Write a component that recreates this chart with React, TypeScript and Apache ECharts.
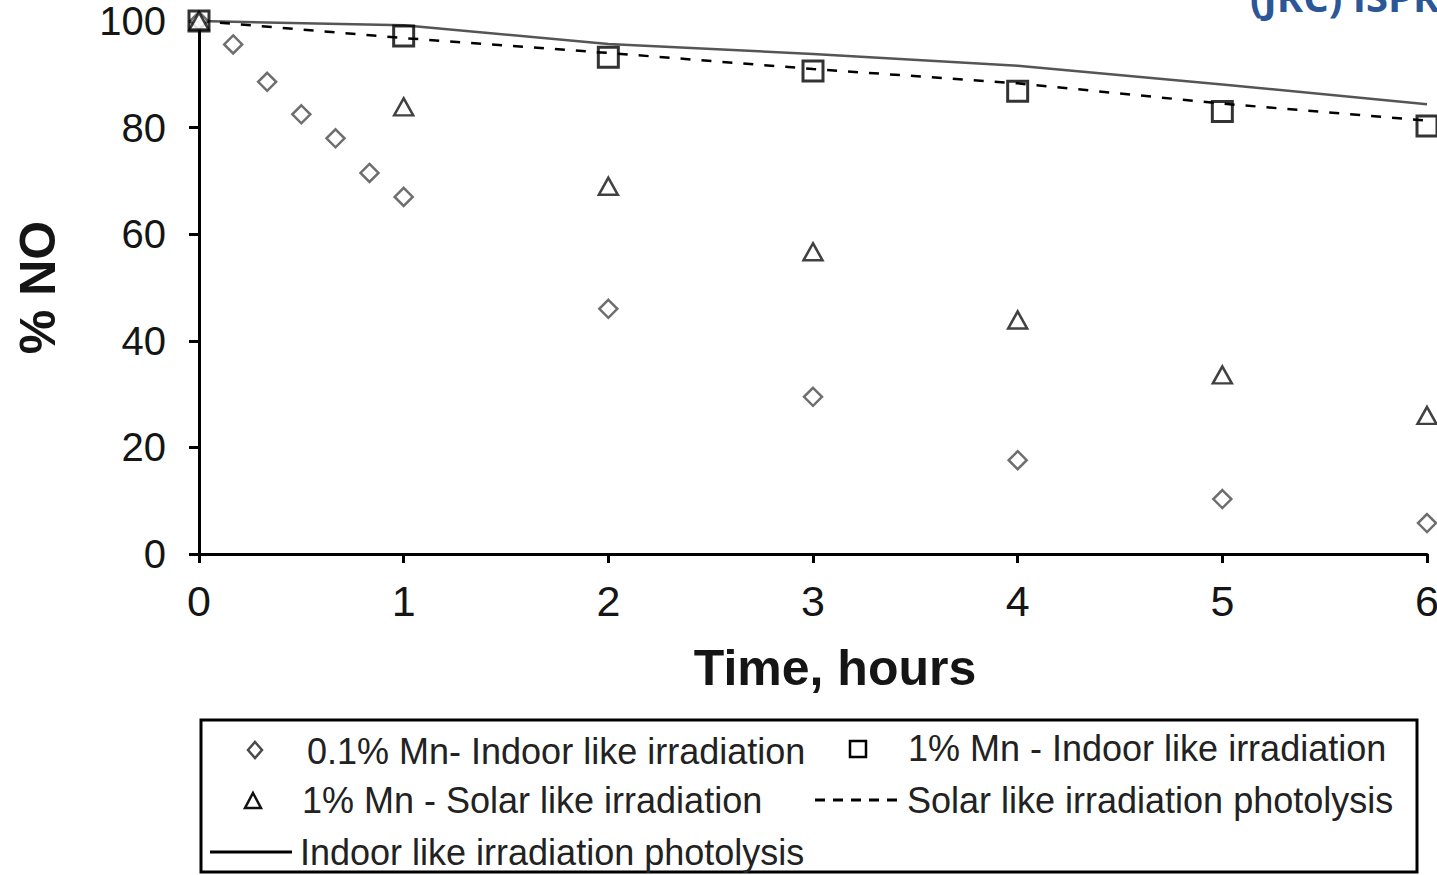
import React, { useEffect, useRef } from "react";
import * as echarts from "echarts";

// ---- data ----
const xTicks = [0, 1, 2, 3, 4, 5, 6];
const yTicks = [0, 20, 40, 60, 80, 100];

const diamondHours = [0, 0.167, 0.333, 0.5, 0.667, 0.833, 1, 2, 3, 4, 5, 6];
const diamondValues = [100, 95.6, 88.6, 82.5, 78, 71.5, 67, 46, 29.5, 17.6, 10.3, 5.8];

const hours = [0, 1, 2, 3, 4, 5, 6];
const squareValues = [100, 97.2, 93.2, 90.6, 86.8, 83, 80.3];
const triangleValues = [100, 83.9, 69, 56.7, 43.9, 33.6, 26];
const indoorPhotolysis = [100, 99.2, 95.7, 93.8, 91.6, 88.1, 84.4];
const solarPhotolysis = [100, 96.8, 94, 91, 88.3, 84.5, 81.3];

const seriesNames = [
  "0.1% Mn- Indoor like irradiation",
  "1% Mn - Indoor like irradiation",
  "1% Mn - Solar like irradiation",
  "Solar like irradiation photolysis",
  "Indoor like irradiation photolysis",
];

const FONT = "'Liberation Sans', Arial, Helvetica, sans-serif";
const TEXT = "#151515";

const pairs = (xs: number[], ys: number[]) => xs.map((x, i) => [x, ys[i]]);

export default function App() {
  const ref = useRef<HTMLDivElement>(null);

  useEffect(() => {
    document.body.style.margin = "0";
    const chart = echarts.init(ref.current!, null, { renderer: "svg" });

    const legendText = (x: number, y: number, text: string) => ({
      type: "text",
      x,
      y,
      style: {
        text,
        fill: "#222",
        font: `36px ${FONT}`,
        align: "left",
        verticalAlign: "middle",
      },
    });

    const option: any = {
      animation: false,
      backgroundColor: "#ffffff",
      grid: {
        left: 199,
        right: 10,
        top: 21,
        bottom: 321,
        containLabel: false,
        outerBoundsMode: "none",
      },
      xAxis: {
        type: "value",
        min: 0,
        max: 6,
        interval: 1,
        name: "Time, hours",
        nameLocation: "middle",
        nameGap: 89,
        nameTextStyle: {
          fontFamily: FONT,
          fontSize: 50,
          fontWeight: "bold",
          color: TEXT,
          padding: [0, 0, 0, 44],
        },
        axisLine: { show: true, onZero: false, lineStyle: { color: "#000", width: 3 } },
        axisTick: { show: true, inside: false, length: 9, lineStyle: { color: "#000", width: 3 } },
        axisLabel: {
          margin: 25,
          fontFamily: FONT,
          fontSize: 43,
          color: TEXT,
          formatter: (v: number) => (xTicks.includes(v) ? String(v) : ""),
        },
        splitLine: { show: false },
      },
      yAxis: {
        type: "value",
        min: 0,
        max: 100,
        interval: 20,
        name: "% NO",
        nameLocation: "middle",
        nameGap: 136,
        nameRotate: 90,
        nameTextStyle: {
          fontFamily: FONT,
          fontSize: 50,
          fontWeight: "bold",
          color: TEXT,
        },
        axisLine: { show: true, onZero: false, lineStyle: { color: "#000", width: 3 } },
        axisTick: { show: true, inside: false, length: 10, lineStyle: { color: "#000", width: 3 } },
        axisLabel: {
          margin: 33,
          fontFamily: FONT,
          fontSize: 40,
          color: TEXT,
          formatter: (v: number) => (yTicks.includes(v) ? String(v) : ""),
        },
        splitLine: { show: false },
      },
      series: [
        {
          name: seriesNames[4],
          type: "line",
          data: pairs(hours, indoorPhotolysis),
          showSymbol: false,
          symbol: "none",
          lineStyle: { color: "#555", width: 2.5, type: "solid" },
          z: 2,
        },
        {
          name: seriesNames[3],
          type: "line",
          data: pairs(hours, solarPhotolysis),
          showSymbol: false,
          symbol: "none",
          lineStyle: { color: "#000", width: 2.5, type: [10, 11] },
          z: 2,
        },
        {
          name: seriesNames[0],
          type: "scatter",
          data: pairs(diamondHours, diamondValues),
          symbol: "diamond",
          symbolSize: 18,
          itemStyle: { color: "#fff", borderColor: "#4a4a4a", borderWidth: 2.5 },
          clip: false,
          z: 3,
        },
        {
          name: seriesNames[2],
          type: "scatter",
          data: pairs(hours, triangleValues),
          symbol: "triangle",
          symbolSize: [19, 17],
          itemStyle: { color: "#fff", borderColor: "#111", borderWidth: 2.5 },
          clip: false,
          z: 4,
        },
        {
          name: seriesNames[1],
          type: "scatter",
          data: pairs(hours, squareValues),
          symbol: "rect",
          symbolSize: 20,
          itemStyle: { color: "rgba(255,255,255,0)", borderColor: "#000", borderWidth: 3 },
          clip: false,
          z: 5,
        },
      ],
      graphic: [
        {
          type: "text",
          x: 1250,
          y: -4,
          style: {
            text: "(JRC) ISPRA",
            fill: "#2b5797",
            font: "bold 40px 'Open Sans', 'Noto Sans', sans-serif",
            align: "left",
            verticalAlign: "middle",
          },
        },
        {
          type: "rect",
          shape: { x: 201, y: 720, width: 1216, height: 152 },
          style: { fill: "none", stroke: "#000", lineWidth: 3 },
        },
        {
          type: "polygon",
          shape: { points: [[255, 742], [262, 750], [255, 758], [248, 750]] },
          style: { fill: "#fff", stroke: "#4a4a4a", lineWidth: 2.5 },
        },
        legendText(307, 751, seriesNames[0]),
        {
          type: "rect",
          shape: { x: 850, y: 741, width: 16, height: 16 },
          style: { fill: "none", stroke: "#000", lineWidth: 2.5 },
        },
        legendText(908, 748, seriesNames[1]),
        {
          type: "polygon",
          shape: { points: [[253, 793], [261, 808], [245, 808]] },
          style: { fill: "#fff", stroke: "#111", lineWidth: 2.5 },
        },
        legendText(302, 800, seriesNames[2]),
        {
          type: "line",
          shape: { x1: 815, y1: 800, x2: 897, y2: 800 },
          style: { stroke: "#000", lineWidth: 3, lineDash: [10, 8] },
        },
        legendText(907, 800, seriesNames[3]),
        {
          type: "line",
          shape: { x1: 210, y1: 852, x2: 292, y2: 852 },
          style: { stroke: "#000", lineWidth: 3 },
        },
        legendText(300, 852, seriesNames[4]),
      ],
    };

    chart.setOption(option);
    return () => chart.dispose();
  }, []);

  return <div ref={ref} style={{ width: 1437, height: 875 }} />;
}
